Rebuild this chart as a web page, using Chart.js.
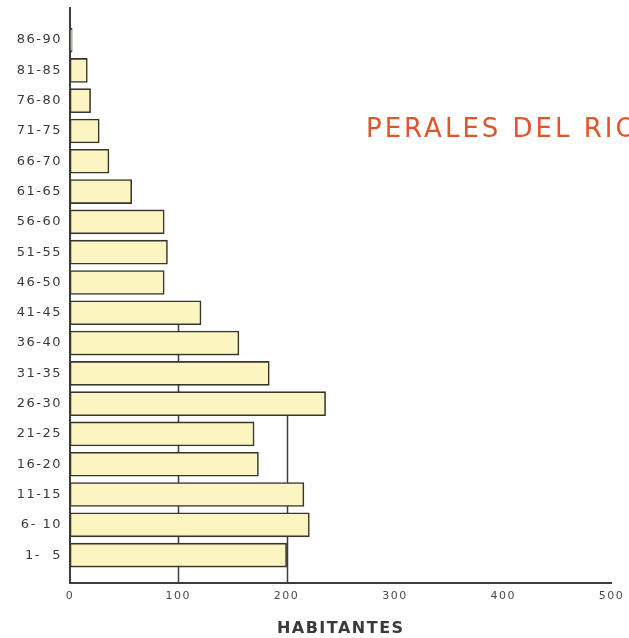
<!DOCTYPE html>
<html>
<head>
<meta charset="utf-8">
<script src="https://cdn.jsdelivr.net/npm/chart.js@4.4.0/dist/chart.umd.min.js"></script>
<style>
  html, body { margin: 0; padding: 0; background: #ffffff; }
  #wrap { width: 629px; height: 638px; }
</style>
</head>
<body>
<div id="wrap"><canvas id="piramide" width="629" height="638"></canvas></div>
<script>
// grupos de edad, de abajo (1-5) hacia arriba (86-90)
var grupos = ["1-  5", "6- 10", "11-15", "16-20", "21-25", "26-30", "31-35", "36-40", "41-45",
  "46-50", "51-55", "56-60", "61-65", "66-70", "71-75", "76-80", "81-85", "86-90"];
var habitantes = [200, 221, 216, 174, 170, 236, 184, 156, 121, 87, 90, 87, 57, 36, 27, 19, 16, 2];
var marcasX = [0, 100, 200, 300, 400, 500];
var titulo = "PERALES DEL RIO";
var tituloEje = "HABITANTES";

var tinta = "#3c3c38";

// lineas verticales parciales: suben hasta la barra mas alta que alcanza ese valor
var lineasParciales = {
  id: "lineasParciales",
  beforeDraw: function (chart) {
    chart.ctx.letterSpacing = "1.5px";
  },
  beforeDatasetsDraw: function (chart) {
    var ctx = chart.ctx;
    var xs = chart.scales.x, ys = chart.scales.y;
    ctx.save();
    ctx.strokeStyle = tinta;
    ctx.lineWidth = 1.5;
    marcasX.forEach(function (v) {
      if (v <= 0) return;
      var top = -1;
      for (var i = 0; i < habitantes.length; i++) {
        if (habitantes[i] >= v) top = i;
      }
      if (top < 0) return;
      var px = Math.round(xs.getPixelForValue(v)) + 0.5;
      ctx.beginPath();
      ctx.moveTo(px, chart.chartArea.bottom);
      ctx.lineTo(px, ys.getPixelForValue(top));
      ctx.stroke();
    });
    ctx.restore();
  },
  afterDraw: function (chart) {
    var ctx = chart.ctx;
    ctx.save();
    ctx.fillStyle = "#e0542e";
    ctx.font = "26px 'DejaVu Sans'";
    ctx.letterSpacing = "3px";
    ctx.textBaseline = "middle";
    ctx.fillText(titulo, 366, 130);
    ctx.restore();
  }
};

var puntos = habitantes.map(function (v, i) { return { x: v, y: i }; });

new Chart(document.getElementById("piramide"), {
  type: "bar",
  plugins: [lineasParciales],
  data: {
    datasets: [{
      data: puntos,
      backgroundColor: "#fcf5c2",
      borderColor: "#36362f",
      borderWidth: 1.6,
      borderSkipped: false,
      barThickness: 24
    }]
  },
  options: {
    indexAxis: "y",
    responsive: false,
    animation: false,
    layout: { padding: { top: 8, right: 17, left: 0, bottom: 0 } },
    plugins: {
      legend: { display: false },
      tooltip: { enabled: false }
    },
    scales: {
      x: {
        type: "linear",
        min: 0,
        max: 500,
        afterBuildTicks: function (axis) {
          axis.ticks = marcasX.map(function (v) { return { value: v }; });
        },
        grid: { display: false, drawTicks: false },
        border: { display: true, color: tinta, width: 2 },
        ticks: {
          padding: 7,
          color: "#4a4a46",
          font: { family: "'DejaVu Sans'", size: 11 }
        },
        title: {
          display: true,
          text: tituloEje,
          color: "#3a3a38",
          padding: { top: 10, bottom: 0 },
          font: { family: "'DejaVu Sans'", size: 16, weight: "bold" }
        },
        afterFit: function (scale) { scale.height = 55; }
      },
      y: {
        type: "linear",
        offset: false,
        min: -0.92,
        max: 18.06,
        afterBuildTicks: function (axis) {
          axis.ticks = grupos.map(function (g, i) { return { value: i }; });
        },
        grid: { display: false, drawTicks: false },
        border: { display: true, color: tinta, width: 2 },
        ticks: {
          padding: 8,
          color: "#3a3a38",
          font: { family: "'DejaVu Sans'", size: 13 },
          callback: function (v) { return grupos[v]; }
        },
        afterFit: function (scale) {
          scale.width = 70;
          scale.paddingTop = 0;
          scale.paddingBottom = 0;
        }
      }
    }
  }
});
</script>
</body>
</html>
